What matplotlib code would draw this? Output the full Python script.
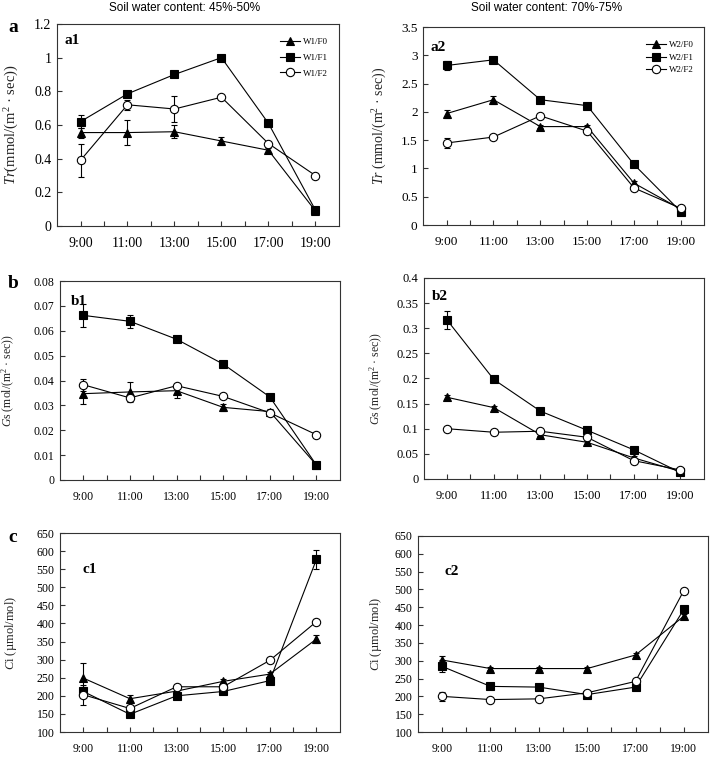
import matplotlib
matplotlib.use('Agg')
import matplotlib.pyplot as plt
import numpy as np

# Godziny pomiarow
hours = [9, 11, 13, 15, 17, 19]
xtick_pos = list(range(9, 20))
xtick_lab = ['9:00', '', '11:00', '', '13:00', '', '15:00', '', '17:00', '', '19:00']

# a1 - Tr, W1
a1_f0 = [0.555, 0.555, 0.56, 0.505, 0.45, 0.09]
a1_f1 = [0.62, 0.785, 0.90, 1.0, 0.61, 0.095]
a1_f2 = [0.39, 0.72, 0.695, 0.765, 0.49, 0.30]
a1_f0_err = [0.03, 0.075, 0.04, 0.025, 0.015, 0.0]
a1_f1_err = [0.04, 0.015, 0.01, 0.01, 0.02, 0.01]
a1_f2_err = [0.10, 0.03, 0.08, 0.01, 0.01, 0.01]

# a2 - Tr, W2
a2_f0 = [1.97, 2.215, 1.74, 1.74, 0.74, 0.28]
a2_f1 = [2.82, 2.92, 2.215, 2.11, 1.07, 0.235]
a2_f2 = [1.45, 1.555, 1.93, 1.66, 0.655, 0.295]
a2_f0_err = [0.07, 0.07, 0.03, 0.03, 0.03, 0.02]
a2_f1_err = [0.08, 0.03, 0.02, 0.02, 0.02, 0.02]
a2_f2_err = [0.08, 0.03, 0.03, 0.03, 0.03, 0.02]

# b1 - Gs, W1
b1_f0 = [0.0347, 0.0354, 0.0359, 0.0292, 0.0275, 0.006]
b1_f1 = [0.0662, 0.0638, 0.0566, 0.0466, 0.0334, 0.006]
b1_f2 = [0.0383, 0.033, 0.0379, 0.0336, 0.027, 0.0182]
b1_f0_err = [0.004, 0.004, 0.0028, 0.0015, 0.001, 0.0005]
b1_f1_err = [0.0045, 0.0025, 0.0007, 0.0007, 0.0007, 0.0005]
b1_f2_err = [0.0025, 0.001, 0.0007, 0.0007, 0.0007, 0.0005]

# b2 - Gs, W2
b2_f0 = [0.1625, 0.142, 0.088, 0.073, 0.042, 0.015]
b2_f1 = [0.316, 0.198, 0.135, 0.097, 0.058, 0.013]
b2_f2 = [0.100, 0.093, 0.095, 0.083, 0.0365, 0.018]
b2_f0_err = [0.004, 0.004, 0.003, 0.003, 0.003, 0.002]
b2_f1_err = [0.018, 0.004, 0.003, 0.003, 0.003, 0.002]
b2_f2_err = [0.003, 0.003, 0.003, 0.003, 0.003, 0.002]

# c1 - Ci, W1
c1_f0 = [249, 192, 213, 240, 260, 357]
c1_f1 = [212, 149, 200, 212, 242, 577]
c1_f2 = [203, 165, 225, 225, 298, 405]
c1_f0_err = [42, 10, 8, 6, 6, 12]
c1_f1_err = [12, 6, 5, 5, 5, 27]
c1_f2_err = [28, 8, 6, 6, 6, 6]

# c2 - Ci, W2
c2_f0 = [302, 278, 278, 278, 316, 425]
c2_f1 = [284, 228, 226, 205, 226, 444]
c2_f2 = [200, 191, 193, 210, 242, 497]
c2_f0_err = [12, 5, 5, 5, 5, 5]
c2_f1_err = [17, 5, 5, 5, 5, 6]
c2_f2_err = [12, 5, 5, 5, 5, 5]

# Osie Y
tr1_ticks = [0, 0.2, 0.4, 0.6, 0.8, 1.0, 1.2]
tr1_lab = ['0', '0.2', '0.4', '0.6', '0.8', '1', '1.2']
tr2_ticks = [0, 0.5, 1, 1.5, 2, 2.5, 3, 3.5]
tr2_lab = ['0', '0.5', '1', '1.5', '2', '2.5', '3', '3.5']
gs1_ticks = [0, 0.01, 0.02, 0.03, 0.04, 0.05, 0.06, 0.07, 0.08]
gs1_lab = ['0', '0.01', '0.02', '0.03', '0.04', '0.05', '0.06', '0.07', '0.08']
gs2_ticks = [0, 0.05, 0.1, 0.15, 0.2, 0.25, 0.3, 0.35, 0.4]
gs2_lab = ['0', '0.05', '0.1', '0.15', '0.2', '0.25', '0.3', '0.35', '0.4']
ci_ticks = list(range(100, 651, 50))
ci_lab = [str(v) for v in ci_ticks]

plt.rcParams['font.family'] = ['Liberation Serif', 'DejaVu Serif']
plt.rcParams['mathtext.fontset'] = 'custom'
plt.rcParams['mathtext.rm'] = 'Liberation Serif'
plt.rcParams['mathtext.it'] = 'Liberation Serif:italic'

fig = plt.figure(figsize=(7.1, 7.61), dpi=100)

frame_col = '#333333'


def panel(rect, series, errs, yticks, ylabs, ylabel, lab_x, fs_tick, fs_ylab, legend_labels=None, leg_spacing=0.9):
    ax = fig.add_axes(rect)
    styles = [dict(marker='^', mfc='black'), dict(marker='s', mfc='black'), dict(marker='o', mfc='white')]
    hnd = []
    for y, e, st in zip(series, errs, styles):
        h = ax.errorbar(hours, y, yerr=e, color='black', lw=0.8, ms=6, mec='black', mew=0.8,
                        capsize=2.5, elinewidth=0.8, capthick=0.8, **st)
        hnd.append(h[0])
    ax.set_xlim(8, 20)
    ax.set_ylim(yticks[0], yticks[-1])
    ax.set_xticks(xtick_pos)
    ax.set_xticklabels(xtick_lab, fontsize=fs_tick)
    ax.set_yticks(yticks)
    ax.set_yticklabels(ylabs, fontsize=fs_tick)
    ax.tick_params(direction='in', length=3.5, width=0.8, color=frame_col, top=False, right=False, pad=4)
    ax.tick_params(axis='x', pad=8)
    for s in ax.spines.values():
        s.set_color(frame_col)
        s.set_linewidth(0.8)
    ax.set_ylabel(ylabel, fontsize=fs_ylab, color='#222222')
    ax.yaxis.set_label_coords(lab_x, 0.5)
    if legend_labels is not None:
        ax.legend(hnd, legend_labels, loc='upper right', frameon=False, fontsize=6.5,
                  handlelength=2.2, labelspacing=leg_spacing, handletextpad=0.3,
                  bbox_to_anchor=(0.99, 0.97))
    return ax


ax_a1 = panel([0.0803, 0.703, 0.397, 0.2655], [a1_f0, a1_f1, a1_f2], [a1_f0_err, a1_f1_err, a1_f2_err],
              tr1_ticks, tr1_lab, r'$Tr$(mmol/(m$^{2}$ · sec))', -0.128, 10, 10.5,
              ['W1/F0', 'W1/F1', 'W1/F2'], 0.8)
ax_a2 = panel([0.596, 0.7043, 0.396, 0.2602], [a2_f0, a2_f1, a2_f2], [a2_f0_err, a2_f1_err, a2_f2_err],
              tr2_ticks, tr2_lab, r'$Tr$ (mmol/(m$^{2}$ · sec))', -0.122, 9.5, 10,
              ['W2/F0', 'W2/F1', 'W2/F2'], 0.45)
ax_b1 = panel([0.0845, 0.3693, 0.394, 0.2614], [b1_f0, b1_f1, b1_f2], [b1_f0_err, b1_f1_err, b1_f2_err],
              gs1_ticks, gs1_lab, r'$G$s (mol/(m$^{2}$ · sec))', -0.152, 8.5, 8.5)
ax_b2 = panel([0.597, 0.3706, 0.394, 0.2641], [b2_f0, b2_f1, b2_f2], [b2_f0_err, b2_f1_err, b2_f2_err],
              gs2_ticks, gs2_lab, r'$G$s (mol/(m$^{2}$ · sec))', -0.138, 9, 8.5)
ax_c1 = panel([0.0845, 0.0381, 0.394, 0.2615], [c1_f0, c1_f1, c1_f2], [c1_f0_err, c1_f1_err, c1_f2_err],
              ci_ticks, ci_lab, r'$C$i (µmol/mol)', -0.148, 8.5, 9)
ax_c2 = panel([0.5887, 0.0381, 0.4085, 0.2576], [c2_f0, c2_f1, c2_f2], [c2_f0_err, c2_f1_err, c2_f2_err],
              ci_ticks, ci_lab, r'$C$i (µmol/mol)', -0.118, 8.5, 9)

# podpisy paneli
ax_a1.text(0.025, 0.95, 'a1', transform=ax_a1.transAxes, fontsize=11, fontweight='bold', va='top')
ax_a2.text(0.025, 0.93, 'a2', transform=ax_a2.transAxes, fontsize=11, fontweight='bold', va='top')
ax_b1.text(0.04, 0.93, 'b1', transform=ax_b1.transAxes, fontsize=11, fontweight='bold', va='top')
ax_b2.text(0.03, 0.94, 'b2', transform=ax_b2.transAxes, fontsize=11, fontweight='bold', va='top')
ax_c1.text(0.08, 0.85, 'c1', transform=ax_c1.transAxes, fontsize=11, fontweight='bold', va='top')
ax_c2.text(0.09, 0.85, 'c2', transform=ax_c2.transAxes, fontsize=11, fontweight='bold', va='top')

fig.text(13 / 710, 1 - 28 / 761, 'a', fontsize=14, fontweight='bold', ha='center', va='center')
fig.text(13 / 710, 1 - 283 / 761, 'b', fontsize=14, fontweight='bold', ha='center', va='center')
fig.text(13 / 710, 1 - 537 / 761, 'c', fontsize=14, fontweight='bold', ha='center', va='center')

fig.text(185 / 710, 1 - 8 / 761, 'Soil water content: 45%-50%', fontsize=8.5, ha='center', va='center',
         family='Liberation Sans')
fig.text(547 / 710, 1 - 8 / 761, 'Soil water content: 70%-75%', fontsize=8.5, ha='center', va='center',
         family='Liberation Sans')

fig.savefig('out.png', dpi=100)
